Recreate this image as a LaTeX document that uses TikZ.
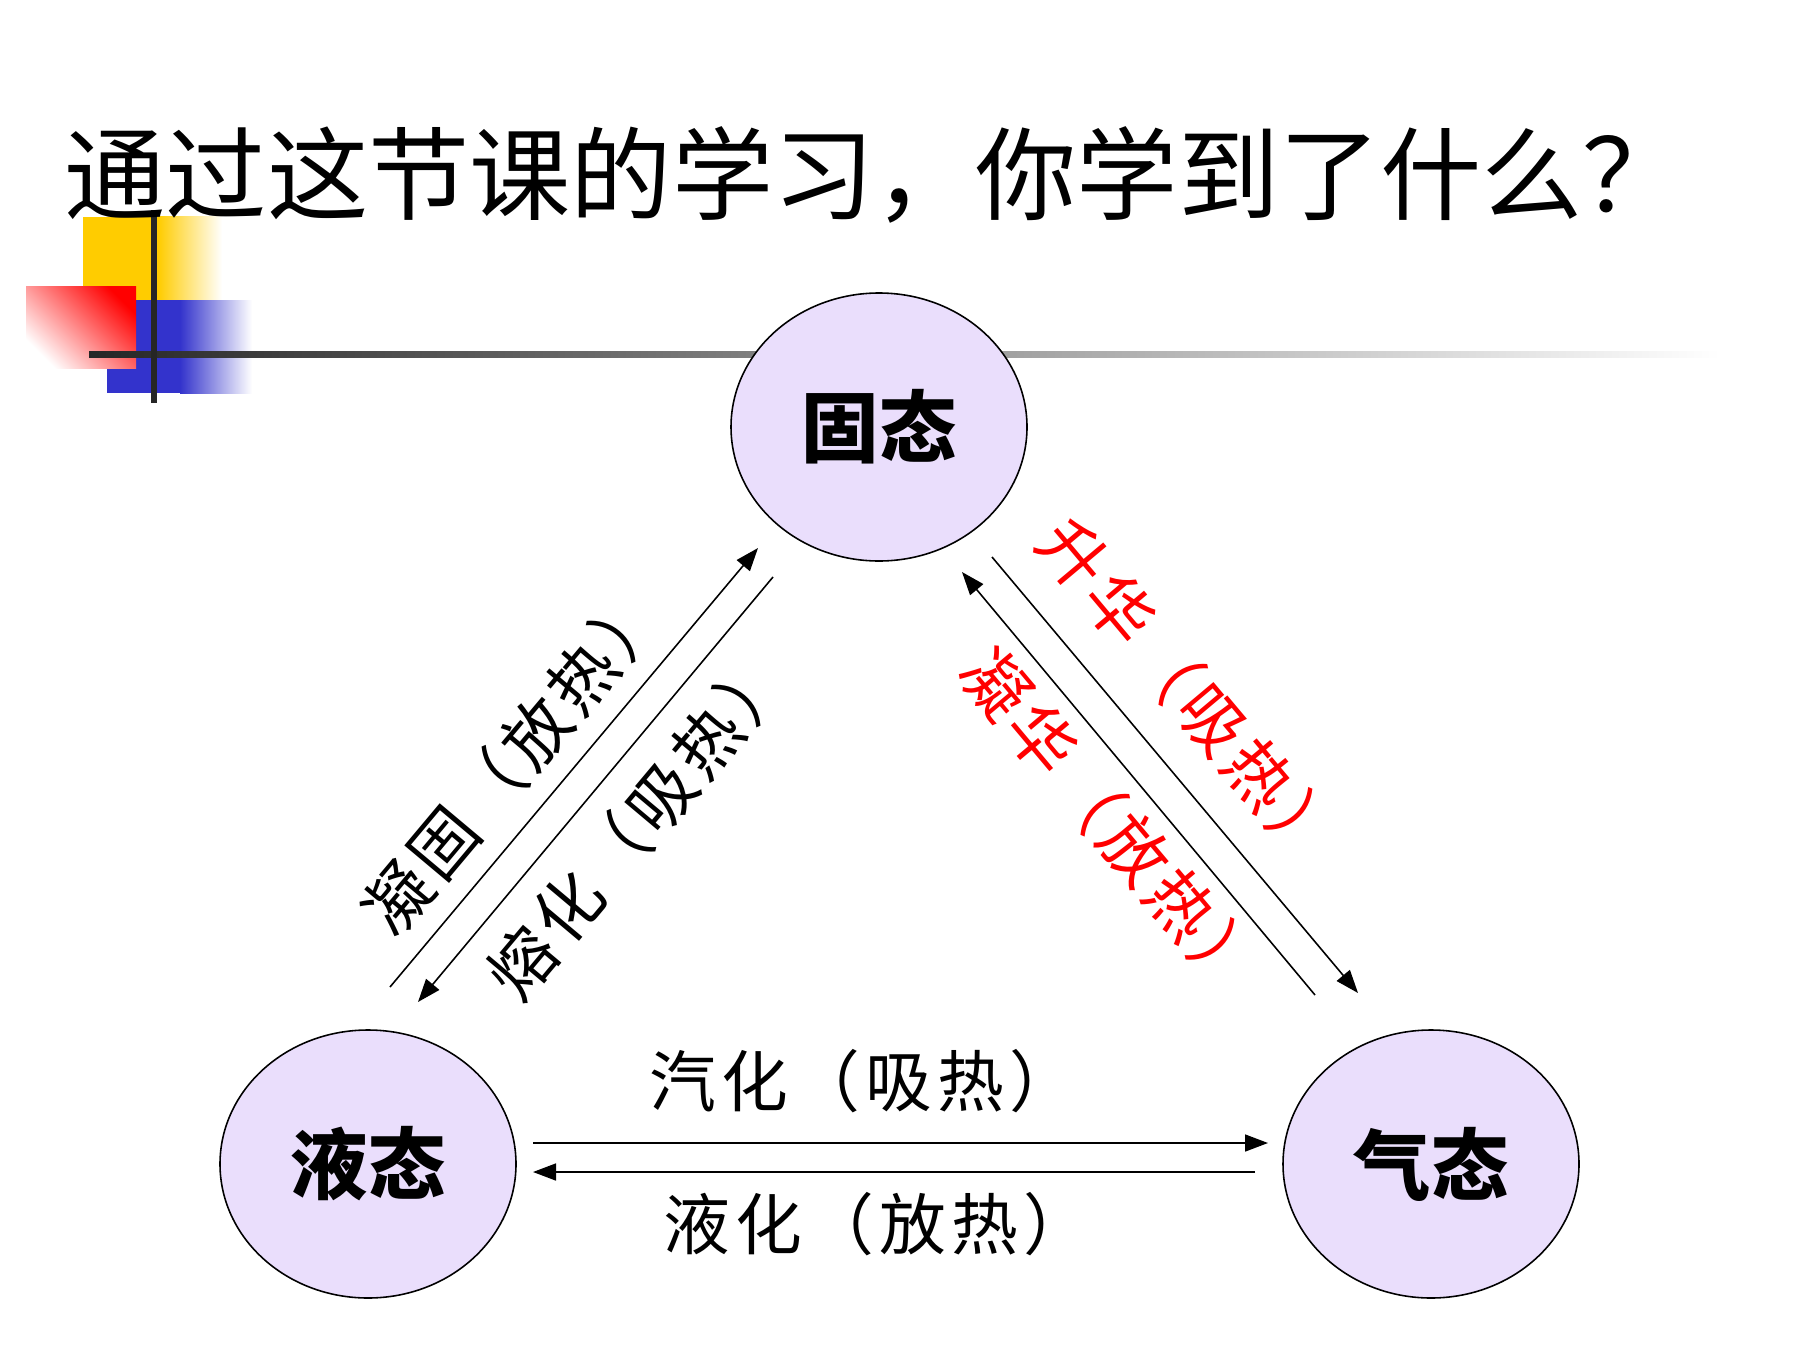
\documentclass[tikz,border=0pt]{standalone}
\usepackage{fontspec}
\newfontfamily\cjk{Noto Sans CJK SC}
\newfontfamily\cjklbl[LetterSpace=8]{Noto Sans CJK SC}
\usetikzlibrary{arrows.meta,shapes.geometric}
\definecolor{statefill}{RGB}{234,222,252}
\definecolor{decoyellow}{RGB}{255,204,0}
\definecolor{decoblue}{RGB}{51,51,204}
\begin{document}
\begin{tikzpicture}[x=0.1mm,y=-0.1mm,
  state/.style={ellipse, draw=black, line width=0.45pt, fill=statefill,
    minimum width=29.6mm, minimum height=26.8mm, inner sep=0pt,
    font=\cjk\bfseries\fontsize{22}{26}\selectfont},
  lbl/.style={font=\cjklbl\fontsize{19}{22}\selectfont, inner sep=0pt},
  conn/.style={line width=0.45pt, -{Triangle[length=2.3mm,width=1.7mm]}}
]
\useasboundingbox[fill=white] (0,0) rectangle (1800,1350);

% decoration
\fill[decoyellow] (83,217) rectangle (158,300);
\shade[left color=decoyellow, right color=white] (158,217) rectangle (222,300);
\fill[decoblue] (107,300) rectangle (180,393);
\shade[left color=decoblue, right color=white] (180,300) rectangle (252,393);
\shade[top color=red, bottom color=white, shading angle=-45] (26,286) rectangle (136,368);
\shade[left color=black!85, right color=white] (89,351) rectangle (1720,357);
\fill[black!85] (151,210) rectangle (157,403);

% title
\node[anchor=west, inner sep=0pt, font=\cjk\fontsize{28.8}{31}\selectfont] (title) at (64,175)
  {通过这节课的学习，你学到了什么？};

% states
\node[state] (solid) at (879,427) {固态};
\node[state] (liquid) at (368,1164) {液态};
\node[state] (gas) at (1431,1164) {气态};

% connector ends
\coordinate (l1s) at (390,987);  \coordinate (l1e) at (758,548);
\coordinate (l2s) at (773,577);  \coordinate (l2e) at (418,1002);
\coordinate (r1s) at (1315,995); \coordinate (r1e) at (962,572);
\coordinate (r2s) at (992,557);  \coordinate (r2e) at (1358,993);
\coordinate (b1s) at (533,1143); \coordinate (b1e) at (1268,1143);
\coordinate (b2s) at (1255,1172);\coordinate (b2e) at (533,1172);

\draw[conn] (l1s) -- (l1e);
\draw[conn] (l2s) -- (l2e);
\draw[conn] (r1s) -- (r1e);
\draw[conn] (r2s) -- (r2e);
\draw[conn] (b1s) -- (b1e);
\draw[conn] (b2s) -- (b2e);

% labels
\node[lbl, rotate=50] (lab1) at (513,760) {凝固（放热）};
\node[lbl, rotate=50] (lab2) at (638,824) {熔化（吸热）};
\node[lbl, rotate=-50, text=red] (lab3) at (1190,692) {升华（吸热）};
\node[lbl, rotate=-50, text=red] (lab4) at (1112,822) {凝华（放热）};
\node[lbl] (lab5) at (863,1081) {汽化（吸热）};
\node[lbl] (lab6) at (877,1224) {液化（放热）};
\end{tikzpicture}
\end{document}
